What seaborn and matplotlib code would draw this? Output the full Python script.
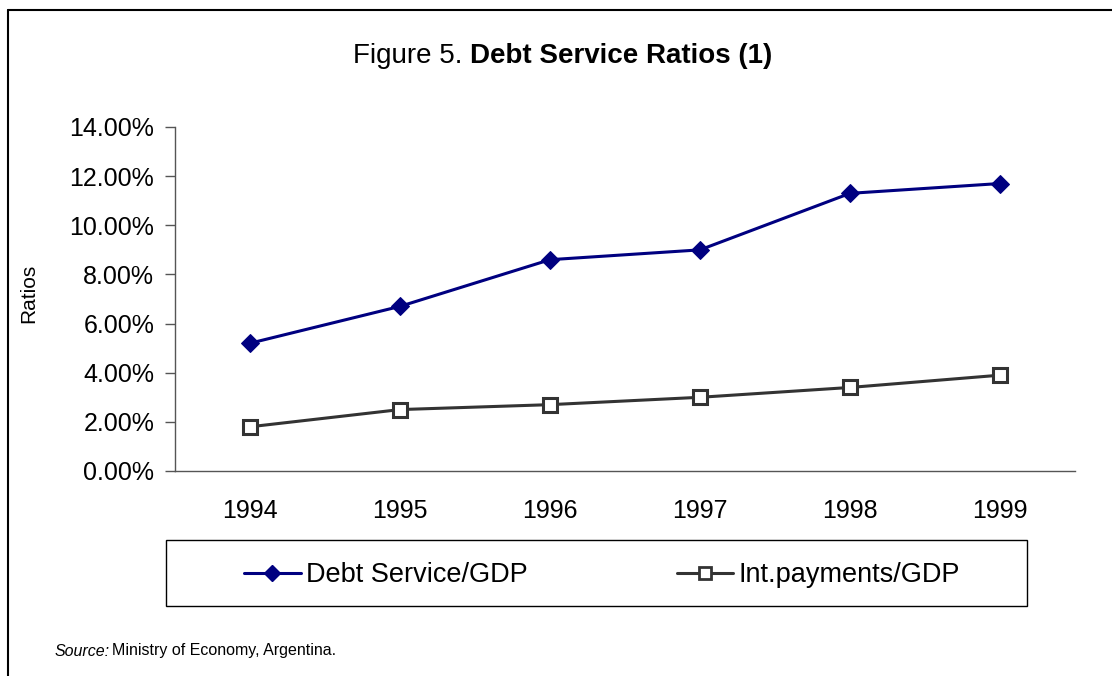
import matplotlib
matplotlib.use("Agg")
import matplotlib.pyplot as plt
import seaborn as sns
import pandas as pd
from matplotlib.lines import Line2D
from matplotlib.patches import Rectangle
from matplotlib.ticker import PercentFormatter, FixedLocator

years = ["1994", "1995", "1996", "1997", "1998", "1999"]
debt_service = [5.2, 6.7, 8.6, 9.0, 11.3, 11.7]
int_payments = [1.8, 2.5, 2.7, 3.0, 3.4, 3.9]
series_names = ["Debt Service/GDP", "Int.payments/GDP"]

sns.set_style("white")
plt.rcParams["font.family"] = ["Liberation Sans", "DejaVu Sans"]
plt.rcParams["text.color"] = "black"
plt.rcParams["axes.labelcolor"] = "black"
plt.rcParams["xtick.color"] = "black"
plt.rcParams["ytick.color"] = "black"

df = pd.DataFrame({
    "Year": years * 2,
    "Ratio": debt_service + int_payments,
    "Series": [series_names[0]] * len(years) + [series_names[1]] * len(years),
})

W, H = 1112, 676
fig = plt.figure(figsize=(W / 100, H / 100), dpi=100)
ax = fig.add_axes([175 / W, 1 - 471 / H, 900 / W, 344 / H])

sns.lineplot(data=df, x="Year", y="Ratio", hue="Series", style="Series",
             palette={series_names[0]: "#000080", series_names[1]: "#333333"},
             markers={series_names[0]: "D", series_names[1]: "s"},
             dashes=False, linewidth=2.2, ax=ax, legend=False)

# marker styling
lines = ax.get_lines()
lines[0].set_markersize(9.5)
lines[0].set_markerfacecolor("#000080")
lines[0].set_markeredgecolor("#000080")
lines[1].set_markersize(10)
lines[1].set_markerfacecolor("white")
lines[1].set_markeredgecolor("#333333")
lines[1].set_markeredgewidth(2.2)

ax.set_xlim(-0.5, len(years) - 0.5)
ax.set_ylim(0, 14)
ax.set_yticks(range(0, 15, 2))
ax.yaxis.set_major_formatter(PercentFormatter(xmax=100, decimals=2))
ax.xaxis.set_minor_locator(FixedLocator([i - 0.5 for i in range(len(years) + 1)]))
ax.tick_params(axis="x", which="major", length=0, pad=20, labelsize=18)
ax.tick_params(axis="x", which="minor", length=7, width=1, color="#555555", direction="out")
ax.tick_params(axis="y", length=7, width=1, color="#555555", direction="out",
               labelsize=18, pad=8, left=True)
ax.set_xlabel("")
ax.set_ylabel("Ratios", fontsize=15)
ax.yaxis.set_label_coords((38 - 175) / 900, (471 - 293) / 344)
for side in ["top", "right"]:
    ax.spines[side].set_visible(False)
for side in ["left", "bottom"]:
    ax.spines[side].set_color("#555555")
    ax.spines[side].set_linewidth(1)

# title with mixed weight
fig.text(470 / W, 1 - 56 / H, "Figure 5. ", ha="right", va="center", fontsize=20)
fig.text(470 / W, 1 - 56 / H, "Debt Service Ratios (1)", ha="left", va="center",
         fontsize=20, fontweight="bold")

# legend box
fig.add_artist(Rectangle((166 / W, 1 - 606 / H), 861 / W, 66 / H, transform=fig.transFigure,
                         facecolor="none", edgecolor="black", linewidth=1))
handles = [
    Line2D([], [], color="#000080", linewidth=2.2, marker="D", markersize=8.5,
           markerfacecolor="#000080", markeredgecolor="#000080"),
    Line2D([], [], color="#333333", linewidth=2.2, marker="s", markersize=9,
           markerfacecolor="white", markeredgecolor="#333333", markeredgewidth=2),
]
fig.legend(handles, series_names, loc="center", bbox_to_anchor=(602 / W, 1 - 575 / H),
           ncol=2, frameon=False, fontsize=19.5, handlelength=2.1, handletextpad=0.2,
           columnspacing=5.5)

# source note
fig.text(55 / W, 1 - 651 / H, "Source:", style="italic", fontsize=11.5, va="center")
fig.text(112 / W, 1 - 651 / H, "Ministry of Economy, Argentina.", fontsize=11.5, va="center")

# outer frame (top and left edges)
fig.add_artist(Line2D([8 / W, 1], [1 - 10 / H, 1 - 10 / H], transform=fig.transFigure,
                      color="black", linewidth=1.5))
fig.add_artist(Line2D([8 / W, 8 / W], [1 - 10 / H, 0], transform=fig.transFigure,
                      color="black", linewidth=1.5))

fig.savefig("out.png", dpi=100)
